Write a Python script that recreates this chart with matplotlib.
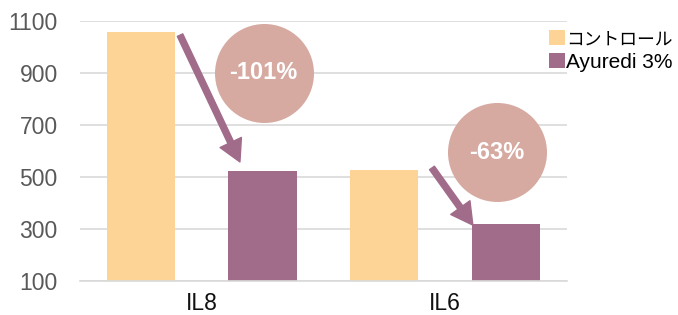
import matplotlib
matplotlib.use("Agg")
import numpy as np
import matplotlib.pyplot as plt

# ── data ─────────────────────────────────────────────────────────────────────
categories = ["IL8", "IL6"]
series_names = ["コントロール", "Ayuredi 3%"]
control = [1058, 527]
ayuredi = [523, 319]
changes = ["-101%", "-63%"]
yticks = [100, 300, 500, 700, 900, 1100]

# annotation layout (data coords): circle centres, arrow start/end
circle_xy = [(0.254, 902), (1.212, 596)]
arrow_from = [(-0.089, 1046), (0.946, 535)]
arrow_to = [(0.157, 558), (1.114, 315)]

# ── colours ──────────────────────────────────────────────────────────────────
C_CTRL = "#FDD495"
C_AYU = "#A16C8A"
C_CIRC = "#D6A9A1"
C_GRID = "#D9D9D9"
C_TICK = "#595959"

plt.rcParams["font.family"] = ["Liberation Sans", "Noto Sans CJK JP", "DejaVu Sans"]

fig = plt.figure(figsize=(6.78, 3.15), dpi=100)
ax = fig.add_axes([0.118, 0.108, 0.718, 0.825])

x = np.arange(len(categories))
w = 0.28
off = 0.25
ax.bar(x - off, control, w, bottom=0, color=C_CTRL, label=series_names[0], zorder=2)
ax.bar(x + off, ayuredi, w, bottom=0, color=C_AYU, label=series_names[1], zorder=2)

ax.set_xlim(-0.5, len(categories) - 0.5)
ax.set_ylim(100, 1100)
ax.set_yticks(yticks)
ax.set_xticks(x)
ax.set_xticklabels(categories)
ax.yaxis.grid(True, color=C_GRID, linewidth=1.2, zorder=0)
ax.set_axisbelow(True)
for s in ["top", "right", "left"]:
    ax.spines[s].set_visible(False)
ax.spines["bottom"].set_color(C_GRID)
ax.spines["bottom"].set_linewidth(1.2)
ax.tick_params(axis="y", length=0, pad=16, labelsize=16.5, labelcolor=C_TICK)
ax.tick_params(axis="x", length=0, pad=8, labelsize=16.5, labelcolor="#111111")

# arrows and percentage circles
for (x0, y0), (x1, y1) in zip(arrow_from, arrow_to):
    ax.annotate("", xy=(x1, y1), xytext=(x0, y0),
                arrowprops=dict(facecolor=C_AYU, edgecolor=C_AYU,
                                width=4.3, headwidth=17, headlength=15.5,
                                shrink=0),
                zorder=4)
for (cx, cy), txt in zip(circle_xy, changes):
    ax.scatter([cx], [cy], s=5080, color=C_CIRC, zorder=5, clip_on=False,
               linewidths=0)
    ax.text(cx, cy, txt, ha="center", va="center", color="white",
            fontsize=17, fontweight="bold", zorder=6)

leg = ax.legend(loc="upper left", bbox_to_anchor=(0.810, 0.905),
                bbox_transform=fig.transFigure, frameon=False, fontsize=15,
                handlelength=0.75, handleheight=0.75, handletextpad=0.05,
                borderpad=0, borderaxespad=0, labelspacing=0.2)
leg.get_texts()[0].set_fontsize(12.8)

fig.savefig("out.png", dpi=100)
